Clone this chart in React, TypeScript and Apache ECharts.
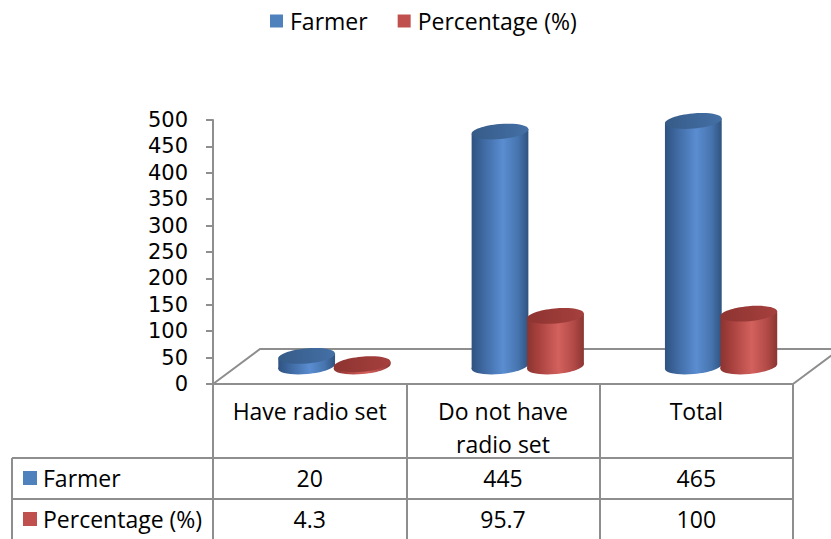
import React, { useEffect, useRef } from "react";
import * as echarts from "echarts";

// ---- data ----
const categories = ["Have radio set", "Do not have\nradio set", "Total"];
const seriesNames = ["Farmer", "Percentage (%)"];
const farmer = [20, 445, 465];
const percentage = [4.3, 95.7, 100];
const yMin = 0;
const yMax = 500;
const yInterval = 50;

// ---- layout / style ----
const W = 831;
const H = 539;
const GRID_LEFT = 213;
const GRID_RIGHT = 38;
const GRID_TOP = 120;
const GRID_BOTTOM = 155;
const DEPTH_X = 47;
const DEPTH_Y = 35;
const RX = 28.5;
const RY = 7.5;
const TILT = 0.09;
const PAIR_SHIFT = 25;
const OFFSETS = [-28, 27.5];
const FONT = '"Open Sans", "Noto Sans", sans-serif';
const AXIS_FONT = '"DejaVu Sans", sans-serif';
const FS = 23;
const LINE = "#8e8e8e";
const COLORS = ["#4f81bd", "#c0504d"];
const BODY_STOPS = [
  ["#2f5280", "#3e68a0", "#5a8dd1", "#4674ae", "#30537f"],
  ["#8a3431", "#a8413e", "#d3615d", "#b24a47", "#8b3532"],
];
const TOP_STOPS = [
  ["#365b88", "#4470a6"],
  ["#8e3431", "#a5403d"],
];

function gradient(st: string[]) {
  return new echarts.graphic.LinearGradient(0, 0, 1, 0, [
    { offset: 0, color: st[0] },
    { offset: 0.2, color: st[1] },
    { offset: 0.55, color: st[2] },
    { offset: 0.82, color: st[3] },
    { offset: 1, color: st[4] },
  ]);
}

function makeRender(k: number) {
  return (params: any, api: any) => {
    const i = api.value(0);
    const v = api.value(1);
    const base = api.coord([i, 0]);
    const tp = api.coord([i, v]);
    const cx = base[0] + PAIR_SHIFT + OFFSETS[k];
    const by = base[1] - DEPTH_Y / 2;
    const ty = tp[1] - DEPTH_Y / 2;
    const ex = RX * Math.cos(TILT);
    const ey = RX * Math.sin(TILT);
    const topFill = new echarts.graphic.LinearGradient(0, 0, 1, 0, [
      { offset: 0, color: TOP_STOPS[k][0] },
      { offset: 1, color: TOP_STOPS[k][1] },
    ]);
    return {
      type: "group",
      children: [
        {
          type: "ellipse",
          x: cx,
          y: by,
          rotation: TILT,
          shape: { cx: 0, cy: 0, rx: RX, ry: RY },
          style: { fill: gradient(BODY_STOPS[k]) },
        },
        {
          type: "polygon",
          shape: {
            points: [
              [cx - ex, ty + ey],
              [cx + ex, ty - ey],
              [cx + ex, by - ey],
              [cx - ex, by + ey],
            ],
          },
          style: { fill: gradient(BODY_STOPS[k]) },
        },
        {
          type: "ellipse",
          x: cx,
          y: ty,
          rotation: TILT,
          shape: { cx: 0, cy: 0, rx: RX, ry: RY },
          style: { fill: topFill },
        },
      ],
    };
  };
}

function floorRender(params: any, api: any) {
  const cs = params.coordSys;
  const x0 = cs.x;
  const y0 = cs.y + cs.height;
  const x1 = cs.x + cs.width;
  return {
    type: "polyline",
    shape: {
      points: [
        [x0, y0],
        [x0 + DEPTH_X, y0 - DEPTH_Y],
        [x1 + DEPTH_X, y0 - DEPTH_Y],
        [x1, y0],
      ],
    },
    style: { stroke: LINE, lineWidth: 2, fill: "none" },
  };
}

function buildTable() {
  const els: any[] = [];
  const colW = (W - GRID_LEFT - GRID_RIGHT) / categories.length;
  const tableRight = W - GRID_RIGHT;
  const rowLines = [458, 499];
  const rowCenters = [478, 519];
  const rows = [farmer, percentage];
  rowLines.forEach((y) =>
    els.push({
      type: "line",
      shape: { x1: 12, y1: y, x2: tableRight, y2: y },
      style: { stroke: LINE, lineWidth: 2 },
    })
  );
  els.push({
    type: "line",
    shape: { x1: 12, y1: rowLines[0], x2: 12, y2: H },
    style: { stroke: LINE, lineWidth: 2 },
  });
  rows.forEach((vals, r) => {
    const yc = rowCenters[r];
    els.push({
      type: "rect",
      shape: { x: 23, y: yc - 7, width: 14, height: 14 },
      style: { fill: COLORS[r] },
    });
    els.push({
      type: "text",
      x: 43,
      y: yc,
      style: {
        text: seriesNames[r],
        font: `${FS}px ${FONT}`,
        fill: "#000",
        align: "left",
        verticalAlign: "middle",
        textAlign: "left",
        textVerticalAlign: "middle",
      },
    });
    vals.forEach((v, i) => {
      els.push({
        type: "text",
        x: GRID_LEFT + (i + 0.5) * colW,
        y: yc,
        style: {
          text: String(v),
          font: `${FS}px ${FONT}`,
          fill: "#000",
          align: "center",
          verticalAlign: "middle",
          textAlign: "center",
          textVerticalAlign: "middle",
        },
      });
    });
  });
  return els;
}

export default function App() {
  const ref = useRef<HTMLDivElement>(null);
  useEffect(() => {
    if (!ref.current) return;
    const chart = echarts.init(ref.current, undefined, { renderer: "svg" });
    chart.setOption({
      animation: false,
      backgroundColor: "#fff",
      textStyle: { fontFamily: FONT },
      legend: {
        data: seriesNames,
        left: 265,
        top: 3,
        icon: "rect",
        itemWidth: 13,
        itemHeight: 13,
        itemGap: 30,
        textStyle: {
          fontSize: FS,
          color: "#000",
          fontFamily: FONT,
          lineHeight: 26,
          padding: [0, 0, 0, 2],
        },
      },
      grid: {
        left: GRID_LEFT,
        right: GRID_RIGHT,
        top: GRID_TOP,
        bottom: GRID_BOTTOM,
        containLabel: false,
      },
      xAxis: {
        type: "category",
        data: categories,
        boundaryGap: true,
        axisLine: { show: true, lineStyle: { color: LINE, width: 2 } },
        axisTick: {
          show: true,
          inside: false,
          length: GRID_BOTTOM,
          interval: 0,
          lineStyle: { color: LINE, width: 2 },
        },
        axisLabel: {
          interval: 0,
          margin: 10,
          fontSize: FS,
          lineHeight: 33,
          color: "#000",
          fontFamily: FONT,
        },
        splitLine: { show: false },
      },
      yAxis: {
        type: "value",
        min: yMin,
        max: yMax,
        interval: yInterval,
        axisLine: { show: true, lineStyle: { color: LINE, width: 2 } },
        axisTick: {
          show: true,
          inside: false,
          length: 7,
          lineStyle: { color: LINE, width: 2 },
        },
        axisLabel: {
          margin: 25,
          fontSize: 21,
          lineHeight: 24,
          color: "#000",
          fontFamily: AXIS_FONT,
        },
        splitLine: { show: false },
      },
      graphic: buildTable(),
      series: [
        {
          type: "custom",
          name: "floor",
          renderItem: floorRender,
          data: [[0, 0]],
          clip: false,
          silent: true,
        },
        {
          type: "custom",
          name: seriesNames[0],
          itemStyle: { color: COLORS[0] },
          renderItem: makeRender(0),
          encode: { x: 0, y: 1 },
          data: farmer.map((v, i) => [i, v]),
          clip: false,
        },
        {
          type: "custom",
          name: seriesNames[1],
          itemStyle: { color: COLORS[1] },
          renderItem: makeRender(1),
          encode: { x: 0, y: 1 },
          data: percentage.map((v, i) => [i, v]),
          clip: false,
        },
      ],
    });
    return () => chart.dispose();
  }, []);
  return (
    <div
      ref={ref}
      style={{ position: "absolute", left: 0, top: 0, width: W, height: H }}
    />
  );
}
